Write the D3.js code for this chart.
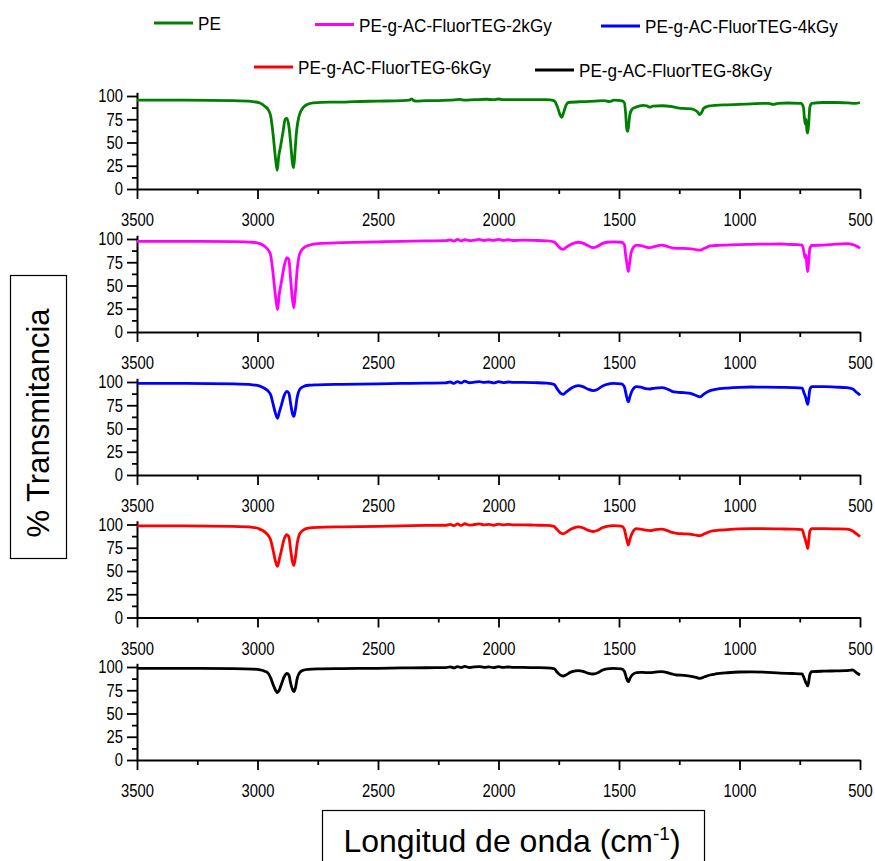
<!DOCTYPE html>
<html>
<head>
<meta charset="utf-8">
<script src="https://cdn.jsdelivr.net/npm/d3@7"></script>
<style>
  body { margin: 0; background: #fff; }
  text { font-family: Arial, "Liberation Sans", sans-serif; fill: #000; }
</style>
</head>
<body>
<svg></svg>
<script>
/* series names, colours */
const seriesNames = ['PE', 'PE-g-AC-FluorTEG-2kGy', 'PE-g-AC-FluorTEG-4kGy', 'PE-g-AC-FluorTEG-6kGy', 'PE-g-AC-FluorTEG-8kGy'];
const seriesColors = ['#008000', '#ff00ff', '#0000ff', '#ff0000', '#000000'];

const xTicks = [3500, 3000, 2500, 2000, 1500, 1000, 500];
const yTicks = [0, 25, 50, 75, 100];

/* spectra, [wavenumber, %T] */
const pe = [[3500,95.5],[3300,95.5],[3100,95],[3020,94],[2990,92.5],[2970,89],[2955,85],[2945,78],[2935,58],[2925,32],[2918,20],[2912,35],[2905,45],[2895,60],[2885,75],[2878,76],[2870,68],[2862,48],[2855,28],[2850,23],[2845,38],[2838,62],[2828,78],[2815,86],[2800,90],[2770,92.5],[2700,93.5],[2650,93.5],[2600,94],[2500,94.5],[2400,95],[2370,95.5],[2360,97],[2352,95],[2340,94.5],[2300,95],[2250,95],[2200,95.5],[2160,96.3],[2140,95.5],[2100,96],[2050,96.5],[2020,96],[2000,96.8],[1980,96],[1950,96.2],[1900,96],[1850,96],[1800,96],[1770,95],[1755,88],[1745,80],[1738,77],[1730,82],[1720,90],[1710,93],[1650,94],[1600,94.5],[1560,95],[1540,94],[1520,95.5],[1490,95],[1478,93],[1472,80],[1468,65],[1464,62],[1460,68],[1455,80],[1445,86],[1430,88],[1400,90],[1385,89.5],[1372,88],[1360,89],[1320,89.5],[1280,88.5],[1250,87],[1220,86.5],[1190,85.5],[1175,83],[1165,80],[1158,82],[1148,87],[1130,89],[1100,90],[1050,90.5],[1000,91],[950,91.5],[900,92],[880,92],[860,91],[840,92],[800,92.5],[745,92],[735,88],[730,75],[727,70],[724,75],[720,62],[717,60],[713,70],[708,88],[700,92],[650,93],[600,93],[550,92.5],[520,92],[500,93]];

const kGy2 = [[3500,97.5],[3300,97.5],[3100,97.2],[3020,96.5],[2990,95],[2970,92],[2955,88],[2945,82],[2935,62],[2925,38],[2917,24],[2910,40],[2900,55],[2890,70],[2878,80],[2870,78],[2862,55],[2855,35],[2849,26],[2843,42],[2835,68],[2825,84],[2810,90],[2790,93],[2750,95],[2650,96],[2500,97],[2400,97.5],[2300,98],[2220,98.2],[2200,99],[2185,97.8],[2170,99.5],[2155,98],[2140,99.2],[2120,98.3],[2100,98.8],[2080,99.5],[2060,98.4],[2040,99.3],[2020,98.5],[2000,99.6],[1980,98.6],[1960,99.2],[1940,98.4],[1900,98.8],[1850,98.5],[1800,98],[1770,97],[1755,93],[1740,89.5],[1731,89],[1720,91],[1700,94],[1680,96],[1670,96.5],[1650,95.5],[1630,93],[1607,90.7],[1590,92],[1570,95],[1550,96.5],[1525,97],[1490,96.5],[1478,94],[1472,82],[1468,75],[1464,68],[1461,65],[1457,72],[1450,85],[1440,91],[1427,93.5],[1410,93],[1390,91.5],[1371,90.7],[1350,92],[1323,93.5],[1300,92],[1280,90.5],[1261,90],[1230,90],[1200,89.5],[1180,88.5],[1164,88],[1145,90],[1122,92.5],[1100,93],[1050,93.5],[1000,94],[950,94.3],[900,94.5],[832,94.6],[800,94.2],[760,94],[740,93.5],[732,85],[728,80],[724,83],[720,70],[717,65],[713,75],[708,90],[700,93],[650,93.5],[600,94.5],[555,95],[530,94],[515,92.5],[505,91],[500,90]];

const kGy4 = [[3500,98.5],[3300,98.5],[3100,98],[3020,97],[2990,95.5],[2970,93],[2955,90],[2945,86],[2935,76],[2925,66],[2917,61],[2910,67],[2900,76],[2890,85],[2878,90],[2870,88],[2862,76],[2855,66],[2849,63],[2843,70],[2835,84],[2825,92],[2810,95],[2790,96.5],[2750,97],[2650,97.5],[2500,98],[2400,98.5],[2300,98.8],[2220,99],[2200,100],[2185,98.5],[2170,100.5],[2155,99],[2140,101],[2120,99.2],[2100,99.8],[2080,100.5],[2060,99.5],[2040,100],[2020,99],[2000,100.3],[1980,99.4],[1960,100],[1940,99.5],[1900,99.6],[1850,99.3],[1800,98.8],[1770,97.5],[1755,92],[1740,87.5],[1731,86.8],[1720,89],[1700,93],[1680,95.5],[1670,96],[1650,95],[1630,92.5],[1607,90.7],[1590,92],[1570,95.5],[1550,97.5],[1525,98.6],[1490,98],[1478,95],[1470,86],[1464,80],[1461,78.8],[1455,84],[1445,91],[1427,95],[1410,94.5],[1390,93],[1371,92.5],[1350,93.5],[1323,94],[1300,92.5],[1280,90],[1261,89],[1230,88.5],[1200,87.5],[1180,85.5],[1164,84],[1145,87.5],[1122,90.7],[1100,92],[1050,93.5],[1000,94.3],[950,94.6],[900,94.5],[832,94.2],[780,94],[740,93.5],[732,88],[726,84],[720,78],[717,76],[713,82],[708,92],[700,95],[650,95],[600,94.5],[555,94],[530,92.5],[515,89],[505,87],[500,85.5]];

const kGy6 = [[3500,98.5],[3300,98.5],[3100,98],[3020,97],[2990,95],[2970,92],[2955,88],[2945,83],[2935,72],[2925,60],[2917,55],[2910,62],[2900,73],[2890,84],[2878,89],[2870,87],[2862,72],[2855,60],[2849,56],[2843,64],[2835,80],[2825,90],[2810,94],[2790,96],[2750,97],[2650,97.5],[2500,98],[2400,98.5],[2300,99],[2220,99.2],[2200,100.2],[2185,98.7],[2170,100.6],[2155,99],[2140,100.8],[2120,99.3],[2100,100],[2080,100.6],[2060,99.5],[2040,100.2],[2020,99.2],[2000,100.5],[1980,99.5],[1960,100.2],[1940,99.5],[1900,99.7],[1850,99.3],[1800,99],[1770,98],[1755,94],[1740,90.5],[1731,90],[1720,91.5],[1700,95],[1680,97],[1670,97.5],[1650,96.5],[1630,94],[1607,92.5],[1590,93.5],[1570,96.5],[1550,98],[1525,98.8],[1490,98.2],[1478,95],[1470,86],[1464,80],[1461,78],[1455,84],[1445,91],[1427,95.5],[1410,95],[1390,94],[1371,93.5],[1350,94.5],[1323,95],[1300,93.5],[1280,91.5],[1261,90.5],[1230,90],[1200,89.5],[1180,88.5],[1164,88],[1145,90],[1122,92.5],[1100,93.5],[1050,94.5],[1000,95.2],[950,95.5],[900,95.5],[832,95.2],[780,95],[740,94.5],[732,88],[726,83],[720,77],[717,74],[713,82],[708,93],[700,95.5],[650,95.5],[600,95.3],[555,95],[530,93],[515,90],[505,88],[500,87]];

const kGy8 = [[3500,98.6],[3300,98.6],[3100,98.3],[3020,97.8],[2990,97],[2970,95.5],[2955,93],[2945,88],[2935,81],[2925,75],[2917,72.4],[2910,75],[2900,82],[2890,89],[2878,93],[2870,91.5],[2862,82],[2855,76],[2849,73.5],[2843,77],[2835,88],[2825,94],[2810,96.5],[2790,97.5],[2750,98],[2650,98.3],[2500,98.6],[2400,99],[2300,99.2],[2220,99.3],[2200,100.2],[2185,99],[2170,100.5],[2155,99.3],[2140,100.6],[2120,99.4],[2100,100.1],[2080,100.5],[2060,99.6],[2040,100.2],[2020,99.3],[2000,100.4],[1980,99.5],[1960,100],[1940,99.6],[1900,99.6],[1850,99.3],[1800,99],[1770,98.2],[1755,94],[1740,90.8],[1731,90.3],[1720,91.5],[1700,94.5],[1680,95.8],[1670,96],[1650,95.3],[1630,93.5],[1607,92.5],[1590,93.5],[1570,96.5],[1550,98],[1525,98.5],[1490,98],[1478,95.5],[1470,89],[1464,85],[1461,84.2],[1455,87.5],[1445,91.5],[1427,94],[1410,94.3],[1390,94],[1371,94],[1350,94.5],[1323,95],[1300,94],[1280,92.5],[1261,91.4],[1230,91],[1200,90],[1180,88.8],[1164,87.8],[1145,89.5],[1122,91.4],[1100,92.5],[1050,93.8],[1000,94.6],[950,94.8],[900,94.5],[832,93.5],[780,93],[740,92.5],[732,88],[726,84],[720,81],[717,79.6],[713,84],[708,92],[700,95],[650,95.5],[600,95.8],[560,96],[530,97],[520,95],[510,93],[500,91.4]];

const seriesData = [pe, kGy2, kGy4, kGy6, kGy8];

/* layout */
const width = 875, height = 861;
const plotLeft = 137, plotRight = 860;
const panelBottoms = [189, 332, 475, 617.5, 760];
const panelH = 93;          // height of 0..100
const labelSX = 0.8;        // the picture's text is squeezed sideways

const svg = d3.select('svg').attr('width', width).attr('height', height);

const x = d3.scaleLinear().domain([3500, 500]).range([plotLeft, plotRight]);

const line = d3.line().curve(d3.curveMonotoneX);

seriesData.forEach(function (data, i) {
	const y0 = panelBottoms[i];
	const y = d3.scaleLinear().domain([0, 100]).range([y0, y0 - panelH]);
	const g = svg.append('g');

	/* x axis, minor then major */
	g.append('g')
		.attr('transform', `translate(0,${y0})`)
		.call(d3.axisBottom(x).tickValues(d3.range(3250, 500, -500)).tickSize(5).tickSizeOuter(0).tickFormat(''))
		.call(a => a.select('.domain').remove());
	const xa = g.append('g')
		.attr('transform', `translate(0,${y0})`)
		.call(d3.axisBottom(x).tickValues(xTicks).tickSize(10).tickSizeOuter(0).tickFormat(d3.format('d')));
	xa.selectAll('text')
		.attr('y', 37.5).attr('dy', 0)
		.attr('transform', `scale(${labelSX},1)`)
		.style('font-size', '18.5px');

	/* y axis */
	g.append('g')
		.attr('transform', `translate(${plotLeft},0)`)
		.call(d3.axisLeft(y).tickValues(d3.range(12.5, 100, 25)).tickSize(5).tickFormat(''))
		.call(a => a.select('.domain').remove());
	const ya = g.append('g')
		.attr('transform', `translate(${plotLeft},0)`)
		.call(d3.axisLeft(y.copy().domain([0, 104]).range([y0, y0 - panelH * 1.04])).tickValues(yTicks).tickSize(10).tickSizeOuter(0));
	ya.selectAll('text')
		.attr('x', -14 / labelSX)
		.attr('transform', `scale(${labelSX},1)`)
		.style('font-size', '18.5px');

	svg.selectAll('.domain').attr('stroke-width', 2);
	svg.selectAll('.tick line').attr('stroke-width', 1.8);
	svg.selectAll('.tick text').style('font-family', 'Arial, "Liberation Sans", sans-serif');

	/* spectrum */
	g.append('path')
		.attr('d', line(data.map(d => [x(d[0]), y(d[1])])))
		.attr('fill', 'none')
		.attr('stroke', seriesColors[i])
		.attr('stroke-width', 2.8)
		.attr('stroke-linejoin', 'round');
});

/* legend */
const legendPos = [[154, 23], [315, 24.5], [601, 26], [254, 67], [535, 70]];
const legend = svg.append('g');
seriesNames.forEach(function (name, i) {
	const p = legendPos[i];
	legend.append('line')
		.attr('x1', p[0]).attr('x2', p[0] + 39)
		.attr('y1', p[1]).attr('y2', p[1])
		.attr('stroke', seriesColors[i]).attr('stroke-width', 3);
	legend.append('text')
		.attr('transform', `translate(${p[0] + 44},${p[1] + 7}) scale(0.9,1)`)
		.style('font-size', '19px')
		.text(name);
});

/* y title */
svg.append('rect')
	.attr('x', 10.5).attr('y', 275.5).attr('width', 56).attr('height', 283)
	.attr('fill', 'none').attr('stroke', '#000').attr('stroke-width', 1.2);
svg.append('text')
	.attr('transform', 'translate(49,423) rotate(-90)')
	.attr('text-anchor', 'middle')
	.style('font-size', '31px')
	.text('% Transmitancia');

/* x title */
svg.append('rect')
	.attr('x', 322.5).attr('y', 810.5).attr('width', 382).attr('height', 70)
	.attr('fill', 'none').attr('stroke', '#000').attr('stroke-width', 1.2);
const xt = svg.append('text')
	.attr('x', 512).attr('y', 852)
	.attr('text-anchor', 'middle')
	.style('font-size', '32px');
xt.append('tspan').text('Longitud de onda (cm');
xt.append('tspan').attr('dy', -12).style('font-size', '19px').text('-1');
xt.append('tspan').attr('dy', 12).text(')');
</script>
</body>
</html>
